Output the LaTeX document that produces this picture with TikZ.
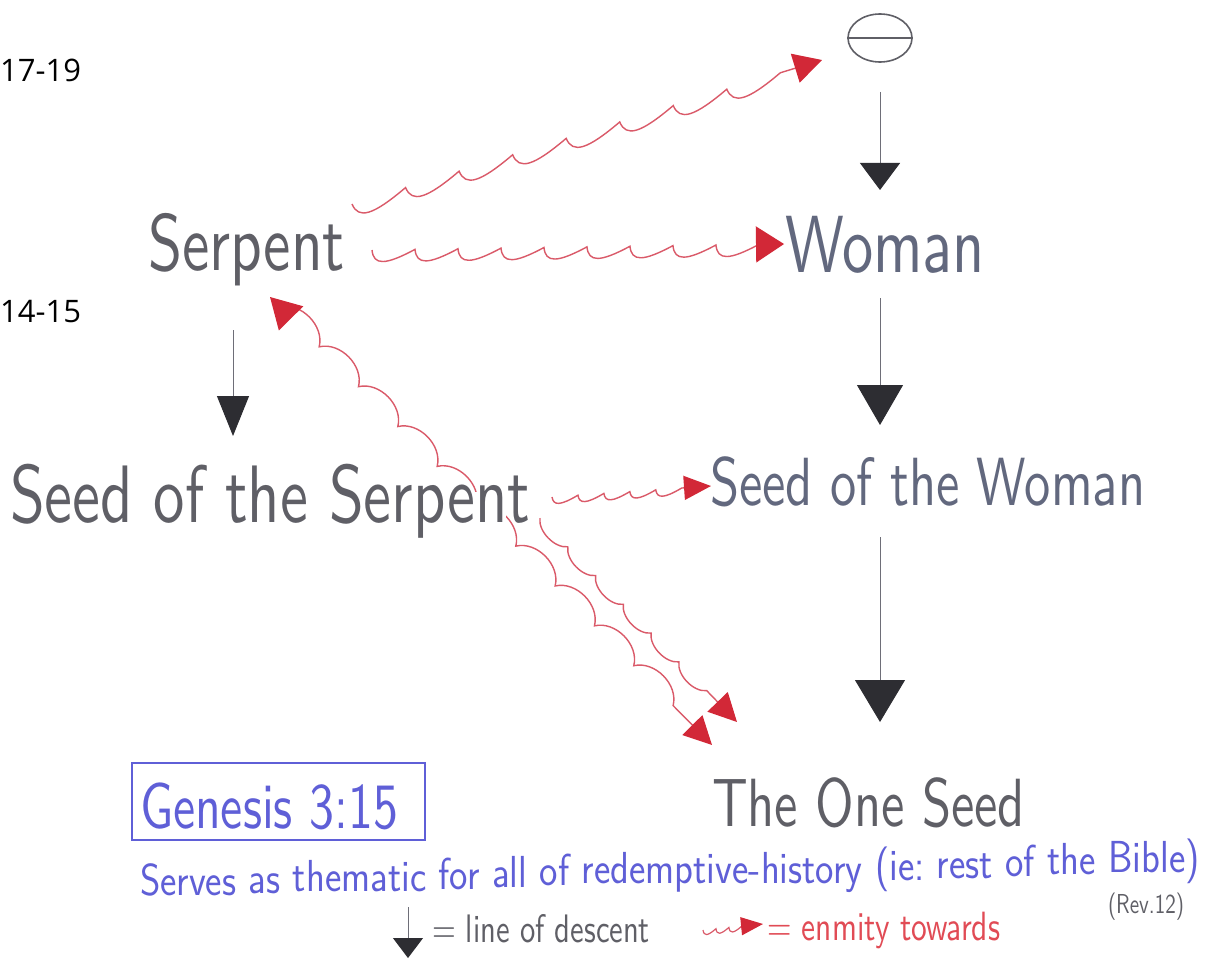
\documentclass[tikz,border=0pt]{standalone}
\usepackage{fontspec}
\newfontfamily\labelfont{Open Sans}
\usepackage{graphicx}
\usetikzlibrary{arrows.meta,decorations,shapes.geometric}
\definecolor{pencil}{RGB}{95,95,102}
\definecolor{womancol}{RGB}{98,104,126}
\definecolor{blueink}{RGB}{95,95,215}
\definecolor{redline}{RGB}{218,90,105}
\definecolor{redhead}{RGB}{210,40,55}
\definecolor{headblack}{RGB}{45,45,50}
\definecolor{stemgray}{RGB}{110,110,120}
\definecolor{redtext}{RGB}{225,75,85}
\newcommand\fitw[2]{\scalebox{1}[1.3]{\resizebox{#1}{!}{#2}}}
\newcommand\servesfont[1]{\scalebox{1}[1.15]{\fontsize{39}{42}\selectfont #1}}
\pgfdeclaredecoration{scallop}{initial}{
  \state{initial}[width=\pgfdecorationsegmentlength, next state=initial]{
    \pgfpathcurveto
      {\pgfqpoint{0.03\pgfdecorationsegmentlength}{1.3\pgfdecorationsegmentamplitude}}
      {\pgfqpoint{0.3\pgfdecorationsegmentlength}{1.3\pgfdecorationsegmentamplitude}}
      {\pgfqpoint{\pgfdecorationsegmentlength}{0pt}}
  }
  \state{final}{\pgfpathlineto{\pgfpointdecoratedpathlast}}
}
\pgfdeclaredecoration{arches}{initial}{
  \state{initial}[width=\pgfdecorationsegmentlength, next state=initial]{
    \pgfpathcurveto
      {\pgfqpoint{0.2\pgfdecorationsegmentlength}{1.33\pgfdecorationsegmentamplitude}}
      {\pgfqpoint{0.8\pgfdecorationsegmentlength}{1.33\pgfdecorationsegmentamplitude}}
      {\pgfqpoint{\pgfdecorationsegmentlength}{0pt}}
  }
  \state{final}{\pgfpathlineto{\pgfpointdecoratedpathlast}}
}
\begin{document}
\begin{tikzpicture}[x=1pt,y=-1pt,
  hand/.style={font=\sffamily, text=pencil, inner sep=0pt, outer sep=0pt, anchor=base west},
  bluetext/.style={hand, text=blueink},
  num/.style={font=\labelfont\fontsize{31}{36}\selectfont, text=black, inner sep=0pt, anchor=base west},
  stem/.style={draw=stemgray, line width=1pt},
  dtip/.style 2 args={-{Triangle[length=#1,width=#2,color=headblack,fill=headblack]}},
  rtip/.style 2 args={-{Triangle[length=#1,width=#2,color=redhead,fill=redhead]}},
  enmity/.style={draw=redline, line width=1.4pt, decorate}
]
\fill[white] (0,0) rectangle (1217,960);
\useasboundingbox (0,0) rectangle (1217,960);

% side numbers
\node[num] (n1719) at (0,82) {17-19};
\node[num] (n1415) at (0,322) {14-15};

% theta
\node[draw=pencil, ellipse, line width=1.6pt, minimum width=64pt, minimum height=48pt, inner sep=0pt] (god) at (880,38) {};
\draw[pencil, line width=1.6pt] (god.west) -- (god.east);

% red enmity connectors (drawn first, below text)
\coordinate (e1s) at (352,204); \coordinate (e1t) at (822,60);
\draw[enmity, decoration={scallop, segment length=56pt, amplitude=-13pt, post length=8pt}, rtip={28pt}{30pt}] (e1s) -- (e1t);

\coordinate (e2s) at (372,250); \coordinate (e2t) at (784,244);
\draw[enmity, decoration={scallop, segment length=43pt, amplitude=-12pt, post length=6pt}, rtip={28pt}{36pt}] (e2s) -- (e2t);

\coordinate (e3s) at (552,497); \coordinate (e3t) at (711,486);
\draw[enmity, decoration={scallop, segment length=26pt, amplitude=-7pt, post length=6pt}, rtip={27pt}{24pt}] (e3s) -- (e3t);

\coordinate (e4s) at (270,297); \coordinate (e4t) at (712,745);
\draw[enmity, decoration={arches, segment length=56pt, amplitude=14pt, pre length=14pt, post length=10pt},
  {Triangle[length=30pt,width=34pt,color=redhead,fill=redhead]}-{Triangle[length=28pt,width=28pt,color=redhead,fill=redhead]}] (e4s) -- (e4t);

\coordinate (e5s) at (540,518); \coordinate (e5t) at (737,722);
\draw[enmity, decoration={arches, segment length=40pt, amplitude=-8pt, post length=8pt}, rtip={28pt}{28pt}] (e5s) -- (e5t);

% small gap where the enmity line passes behind the lettering
\fill[white] (466,492) rectangle (506,524);

% handwritten labels
\node[hand] (serpent) at (148,270) {\fitw{197pt}{Serpent}};
\node[hand, text=womancol] (woman) at (785,272) {\fitw{200pt}{Woman}};
\node[hand] (seeds) at (10,522) {\fitw{520pt}{Seed of the Serpent}};
\node[hand, text=womancol] (seedw) at (710,505) {\fitw{435pt}{Seed of the Woman}};
\node[hand] (oneseed) at (712,826) {\fitw{313pt}{The One Seed}};

% descent arrows
\coordinate (d1s) at (880,92);  \coordinate (d1t) at (880,190);
\draw[stem, dtip={27pt}{40pt}] (d1s) -- (d1t);
\coordinate (d2s) at (880,298); \coordinate (d2t) at (880,425);
\draw[stem, dtip={40pt}{46pt}] (d2s) -- (d2t);
\coordinate (d3s) at (880,537); \coordinate (d3t) at (880,722);
\draw[stem, dtip={42pt}{50pt}] (d3s) -- (d3t);
\coordinate (d4s) at (233,330); \coordinate (d4t) at (233,436);
\draw[stem, dtip={40pt}{32pt}] (d4s) -- (d4t);

% Genesis box
\node[draw=blueink, line width=1.2pt, minimum width=293pt, minimum height=77pt, inner sep=0pt] (genbox) at (278.5,801.5) {};
\node[bluetext] (genesis) at (140,828) {\fitw{258pt}{Genesis 3:15}};

% sloping handwritten line, word by word
\tikzset{nextword/.style={bluetext}}
\node[bluetext] (w1) at (140,895) {\servesfont{Serves}};
\node[nextword] (w2) at ([xshift=12.5pt,yshift=2pt]w1.base east) {\servesfont{as}};
\node[nextword] (w3) at ([xshift=12.5pt,yshift=2pt]w2.base east) {\servesfont{thematic}};
\node[nextword] (w4) at ([xshift=12.5pt,yshift=2pt]w3.base east) {\servesfont{for}};
\node[nextword] (w5) at ([xshift=12.5pt,yshift=2pt]w4.base east) {\servesfont{all}};
\node[nextword] (w6) at ([xshift=12.5pt,yshift=2pt]w5.base east) {\servesfont{of}};
\node[nextword] (w7) at ([xshift=12.5pt,yshift=2pt]w6.base east) {\servesfont{redemptive-history}};
\node[nextword] (w8) at ([xshift=12.5pt,yshift=3pt]w7.base east) {\servesfont{(ie:}};
\node[nextword] (w9) at ([xshift=12.5pt,yshift=2pt]w8.base east) {\servesfont{rest}};
\node[nextword] (w10) at ([xshift=12.5pt,yshift=2pt]w9.base east) {\servesfont{of}};
\node[nextword] (w11) at ([xshift=12.5pt,yshift=2pt]w10.base east) {\servesfont{the}};
\node[nextword] (w12) at ([xshift=12.5pt,yshift=2pt]w11.base east) {\servesfont{Bible)}};
\node[hand] (rev) at (1108,913) {\fitw{76pt}{(Rev.12)}};

% legend
\coordinate (l1s) at (408,907); \coordinate (l1t) at (408,958);
\draw[stem, dtip={20pt}{30pt}] (l1s) -- (l1t);
\node[hand] (legd) at (432,942) {\fitw{218pt}{= line of descent}};
\coordinate (l2s) at (703,930); \coordinate (l2t) at (763,924);
\draw[enmity, line width=1.2pt, decoration={scallop, segment length=13pt, amplitude=-5pt, post length=4pt}, rtip={22pt}{18pt}] (l2s) -- (l2t);
\node[hand, text=redtext] (lege) at (767,940) {\fitw{233pt}{= enmity towards}};
\end{tikzpicture}
\end{document}
